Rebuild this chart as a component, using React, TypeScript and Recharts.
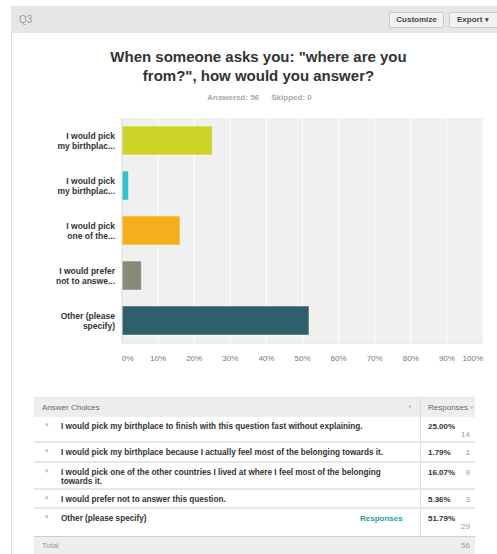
import React from 'react';
import { BarChart, Bar, XAxis, YAxis, CartesianGrid, Cell } from 'recharts';

const questionId = 'Q3';
const titleLines = ['When someone asks you: "where are you', 'from?", how would you answer?'];
const answered = 56;
const skipped = 0;

// short labels shown on the chart axis
const categories = [
  'I would pick\nmy birthplac...',
  'I would pick\nmy birthplac...',
  'I would pick\none of the...',
  'I would prefer\nnot to answe...',
  'Other (please\nspecify)',
];
// full answer texts shown in the table
const choices = [
  'I would pick my birthplace to finish with this question fast without explaining.',
  'I would pick my birthplace because I actually feel most of the belonging towards it.',
  'I would pick one of the other countries I lived at where I feel most of the belonging towards it.',
  'I would prefer not to answer this question.',
  'Other (please specify)',
];
const percents = [25.0, 1.79, 16.07, 5.36, 51.79];
const counts = [14, 1, 9, 3, 29];
const total = 56;
const barColors = ['#cdd429', '#2fc4c7', '#f6ae1f', '#8a8a78', '#2f5f6b'];
const xTicks = [0, 10, 20, 30, 40, 50, 60, 70, 80, 90, 100];

const FONT = '"Liberation Sans", Arial, Helvetica, sans-serif';

const chartData = categories.map((label, i) => ({ key: i, label, value: percents[i] }));

const YTick = ({ x, y, payload }: any) => {
  const lines = String(categories[payload.value] ?? payload.value).split('\n');
  return (
    <text x={x + 1} y={y} textAnchor="end" fontSize={8.5} fontWeight="bold" fill="#333" fontFamily={FONT}>
      {lines.map((l, i) => (
        <tspan key={i} x={x + 1} dy={i === 0 ? -1.5 : 9.5}>{l}</tspan>
      ))}
    </text>
  );
};

const XTick = ({ x, y, payload }: any) => {
  const anchor = payload.value === 0 ? 'start' : payload.value === 100 ? 'end' : 'middle';
  return (
    <text x={x} y={y} dy={10} textAnchor={anchor} fontSize={8} fill="#777" fontFamily={FONT}>
      {payload.value}%
    </text>
  );
};

const rowHeights = [26, 20, 27, 19, 28];

export default function App() {
  return (
    <div style={{ position: 'absolute', left: 0, top: 0, width: 497, height: 554, overflow: 'hidden', background: '#fff', fontFamily: FONT }}>
      {/* card border + header */}
      <div style={{ position: 'absolute', left: 11, top: 6, width: 1, height: 548, background: '#dcdcdc' }} />
      <div style={{ position: 'absolute', left: 11, top: 6, width: 486, height: 27, background: '#e6e6e6' }}>
        <div style={{ position: 'absolute', left: 8, top: 8, fontSize: 10, color: '#9a9a9a' }}>{questionId}</div>
        <div style={{ position: 'absolute', left: 378, top: 6, width: 55, height: 16, boxSizing: 'border-box', border: '1px solid #c8c8c8', borderRadius: 2, background: '#f2f2f2', fontSize: 8, fontWeight: 'bold', color: '#444', textAlign: 'center', lineHeight: '14px' }}>Customize</div>
        <div style={{ position: 'absolute', left: 438, top: 6, width: 60, height: 16, boxSizing: 'border-box', border: '1px solid #c8c8c8', borderRadius: 2, background: '#f2f2f2', fontSize: 8, fontWeight: 'bold', color: '#444', lineHeight: '14px', paddingLeft: 7 }}>Export <span style={{ fontSize: 7 }}>▾</span></div>
      </div>

      {/* title */}
      <div style={{ position: 'absolute', left: 11, top: 47, width: 495, textAlign: 'center', fontSize: 15, fontWeight: 'bold', color: '#333', lineHeight: '19px' }}>
        {titleLines.map((t, i) => <div key={i}>{t}</div>)}
      </div>
      <div style={{ position: 'absolute', left: 11, top: 93, width: 497, textAlign: 'center', fontSize: 8, fontWeight: 'bold', color: '#a8a8a8' }}>
        <span>Answered: {answered}</span>
        <span style={{ marginLeft: 12 }}>Skipped: {skipped}</span>
      </div>

      {/* chart */}
      <div style={{ position: 'absolute', left: 0, top: 110 }}>
        <BarChart width={497} height={260} data={chartData} layout="vertical" margin={{ top: 8, right: 14, left: 0, bottom: 0 }}>
          <CartesianGrid horizontal={false} stroke="#ffffff" fill="#eff0ef" fillOpacity={1} />
          <XAxis type="number" domain={[0, 100]} ticks={xTicks} height={27} tickLine={false} axisLine={{ stroke: '#e2e2e2' }} tick={<XTick />} interval={0} />
          <YAxis type="category" dataKey="key" width={122} tickLine={false} axisLine={{ stroke: '#d6d6d6' }} tick={<YTick />} interval={0} />
          <Bar dataKey="value" barSize={29} isAnimationActive={false} stroke="rgba(255,255,255,0.45)" strokeWidth={1}>
            {chartData.map((d, i) => <Cell key={d.key} fill={barColors[i]} />)}
          </Bar>
        </BarChart>
      </div>

      {/* table */}
      <div style={{ position: 'absolute', left: 34, top: 397, width: 441, fontSize: 8, color: '#333' }}>
        <div style={{ position: 'relative', height: 20, background: '#eeeeee', borderTop: '1px solid #e4e4e4', boxSizing: 'border-box' }}>
          <span style={{ position: 'absolute', left: 8, top: 5, color: '#666' }}>Answer Choices</span>
          <span style={{ position: 'absolute', left: 374, top: 5, color: '#c4c4c4', fontSize: 7 }}>▾</span>
          <span style={{ position: 'absolute', left: 386, top: 0, width: 1, height: 20, background: '#dcdcdc' }} />
          <span style={{ position: 'absolute', left: 394, top: 5, color: '#666' }}>Responses <span style={{ color: '#c4c4c4', fontSize: 7 }}>▾</span></span>
        </div>
        {choices.map((c, i) => {
          const wrap = String(counts[i]).length > 1;
          return (
            <div key={i} style={{ position: 'relative', height: rowHeights[i], boxSizing: 'border-box', borderBottom: i === choices.length - 1 ? '1px solid #cfcfcf' : '2px solid #e6e6e6' }}>
              <span style={{ position: 'absolute', left: 11, top: 4, color: '#bdbdbd', fontSize: 7 }}>▾</span>
              <div style={{ position: 'absolute', left: 27, top: 5, width: 328, fontWeight: 'bold', fontSize: 8.2, lineHeight: '9px' }}>{c}</div>
              {i === choices.length - 1 && (
                <span style={{ position: 'absolute', left: 326, top: 5, fontWeight: 'bold', color: '#2a9d9b' }}>Responses</span>
              )}
              <span style={{ position: 'absolute', left: 386, top: 0, width: 1, height: '100%', background: '#dcdcdc' }} />
              <span style={{ position: 'absolute', left: 394, top: 5, fontWeight: 'bold' }}>{percents[i].toFixed(2)}%</span>
              <span style={{ position: 'absolute', right: 5, top: wrap ? 13 : 5, color: '#999' }}>{counts[i]}</span>
            </div>
          );
        })}
        <div style={{ position: 'relative', height: 18, background: '#eeeeee' }}>
          <span style={{ position: 'absolute', left: 8, top: 4, color: '#9a9a9a' }}>Total</span>
          <span style={{ position: 'absolute', right: 5, top: 4, color: '#9a9a9a' }}>{total}</span>
        </div>
      </div>
    </div>
  );
}
